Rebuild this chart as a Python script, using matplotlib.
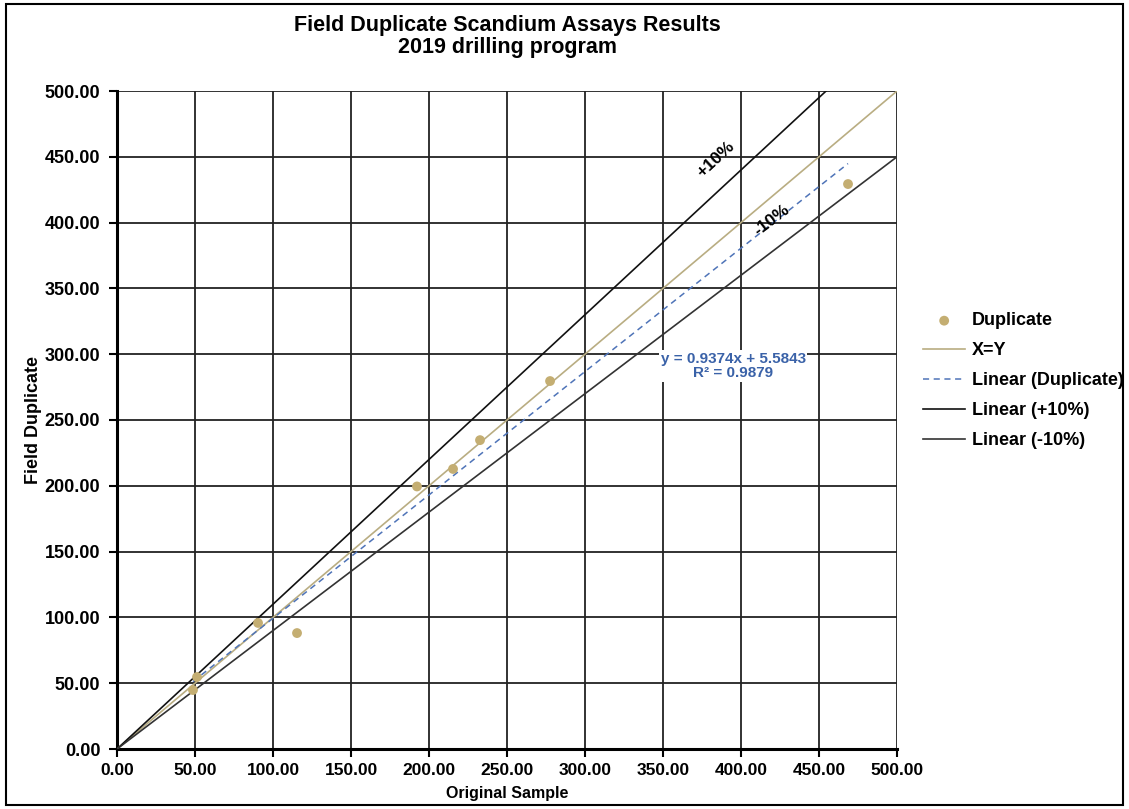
import numpy as np
import matplotlib.pyplot as plt
from matplotlib.patches import Rectangle

# ===== data =====
original = [48.7, 51.3, 90.4, 115.4, 192.3, 215.4, 232.7, 277.6, 468.6]
duplicate = [44.8, 54.7, 95.8, 88.1, 199.5, 212.8, 234.7, 279.6, 429.3]

# trend line as printed on the chart
slope = 0.9374
intercept = 5.5843
r2 = 0.9879

ref_x = [0, 500]
ticks = [0, 50, 100, 150, 200, 250, 300, 350, 400, 450, 500]

plt.rcParams.update({
    "font.family": ["Liberation Sans", "DejaVu Sans"],
    "font.weight": "bold",
    "font.size": 10,
})

fig = plt.figure(figsize=(11.29, 8.09), dpi=100)
ax = fig.add_axes([117 / 1129, 60 / 809, 780 / 1129, 658 / 809])

tan = "#c4ae72"
line_xy = "#b9ad82"
blue = "#4f74b8"

# reference lines
x = np.array(ref_x, dtype=float)
ax.plot(x, x, color=line_xy, lw=1.2, label="X=Y", zorder=3)
trend_x = np.array([min(original), max(original)])
ax.plot(trend_x, slope * trend_x + intercept, color=blue, lw=1.1,
        ls=(0, (4, 3)), label="Linear (Duplicate)", zorder=3)
ax.plot(x, 1.1 * x, color="#111111", lw=1.2, label="Linear (+10%)", zorder=3)
ax.plot(x, 0.9 * x, color="#333333", lw=1.2, label="Linear (-10%)", zorder=3)

ax.scatter(original, duplicate, s=50, color=tan, edgecolors="none",
           label="Duplicate", zorder=4)

ax.set_xlim(0, 500)
ax.set_ylim(0, 500)
ax.set_xticks(ticks)
ax.set_yticks(ticks)
ax.set_xticklabels([f"{t:.2f}" for t in ticks], fontsize=12.5, fontweight="bold")
ax.set_yticklabels([f"{t:.2f}" for t in ticks], fontsize=13, fontweight="bold")
ax.tick_params(direction="out", length=6, width=1.5, color="black")
ax.tick_params(axis="x", pad=4)
ax.tick_params(axis="y", pad=6)
ax.grid(True, color="#222222", lw=1.3)
ax.set_axisbelow(True)

for s in ["top", "right"]:
    ax.spines[s].set_visible(False)
for s in ["left", "bottom"]:
    ax.spines[s].set_linewidth(2.2)

ax.set_xlabel("Original Sample", fontsize=11.5, fontweight="bold", labelpad=6)
ax.set_ylabel("Field Duplicate", fontsize=13, fontweight="bold", labelpad=2)

# +/-10% labels along lines
ang_hi = np.degrees(np.arctan(1.1 * (658 / 500) / (780 / 500)))
ang_lo = np.degrees(np.arctan(0.9 * (658 / 500) / (780 / 500)))
ax.text(384, 448, "+10%", rotation=ang_hi, ha="center", va="center",
        fontsize=12.5, fontweight="bold", rotation_mode="anchor")
ax.text(420, 402, "-10%", rotation=ang_lo, ha="center", va="center",
        fontsize=12.5, fontweight="bold", rotation_mode="anchor")

ax.text(395, 291, f"y = {slope:.4f}x + {intercept:.4f}\nR² = {r2:.4f}",
        ha="center", va="center", color="#3a62a8", fontsize=11,
        fontweight="bold", linespacing=1.05, zorder=5,
        bbox=dict(facecolor="white", edgecolor="none", pad=1))

fig.text(507 / 1129, 1 - 26 / 809, "Field Duplicate Scandium Assays Results",
         ha="center", va="center", fontsize=15.5, fontweight="bold")
fig.text(507 / 1129, 1 - 47 / 809, "2019 drilling program",
         ha="center", va="center", fontsize=15.5, fontweight="bold")

# legend in Excel order
h, l = ax.get_legend_handles_labels()
order = ["Duplicate", "X=Y", "Linear (Duplicate)", "Linear (+10%)", "Linear (-10%)"]
hd = dict(zip(l, h))
fig.legend([hd[k] for k in order], order, loc="upper left",
           bbox_to_anchor=(918 / 1129, 1 - 307 / 809), frameon=False,
           borderaxespad=0, borderpad=0.3,
           handlelength=2.3, handletextpad=0.4, labelspacing=0.72,
           prop={"weight": "bold", "size": 13})

# outer chart border
fig.add_artist(Rectangle((6 / 1129, 4 / 809), 1117 / 1129, 801 / 809,
                         transform=fig.transFigure, fill=False,
                         edgecolor="black", lw=1.5))

plt.savefig("out.png", dpi=100)
